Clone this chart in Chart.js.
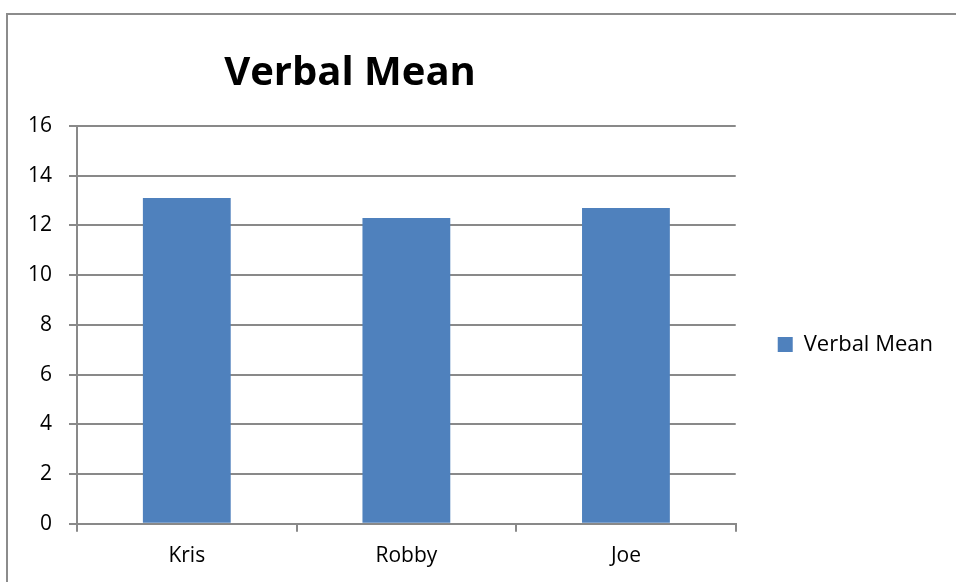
<!DOCTYPE html>
<html>
<head>
<meta charset="utf-8">
<script src="https://cdn.jsdelivr.net/npm/chart.js@4.4.0/dist/chart.umd.min.js"></script>
<style>
    html, body { margin: 0; padding: 0; background: #fff; }
</style>
</head>
<body>
<canvas id="verbal_graph" width="956" height="582"></canvas>
<script>
const chartTitle = 'Verbal Mean';
const seriesLabel = 'Verbal Mean';
const students = ['Kris', 'Robby', 'Joe'];
const verbalMean = [13.1, 12.3, 12.7];
const yMin = 0;
const yMax = 16;
const yStep = 2;

(function () {
    const verbalGraph = document.getElementById('verbal_graph');
    const gridColor = '#898989';

    // frame line and the title, drawn like the spreadsheet export
    const frameAndTitle = {
        id: 'frameAndTitle',
        afterLayout: function (chart) {
            // legend sits a little higher than the canvas middle
            chart.legend.top -= 18;
        },
        beforeDraw: function (chart) {
            const ctx = chart.ctx;
            ctx.save();
            ctx.strokeStyle = '#8c8c8c';
            ctx.lineWidth = 2;
            ctx.beginPath();
            ctx.moveTo(7, 582);
            ctx.lineTo(7, 14);
            ctx.lineTo(956, 14);
            ctx.stroke();
            ctx.restore();
        },
        afterDraw: function (chart) {
            const ctx = chart.ctx;
            ctx.save();
            ctx.font = 'bold 40px "Open Sans"';
            ctx.fillStyle = '#000';
            ctx.textAlign = 'center';
            ctx.textBaseline = 'alphabetic';
            ctx.fillText(chartTitle, 350, 85);
            ctx.restore();
        }
    };

    new Chart(verbalGraph, {
        type: 'bar',
        data: {
            labels: students,
            datasets: [
                {
                    label: seriesLabel,
                    data: verbalMean,
                    backgroundColor: '#4f81bd',
                    categoryPercentage: 1,
                    barPercentage: 0.4
                }
            ]
        },
        options: {
            responsive: false,
            animation: false,
            devicePixelRatio: 1,
            layout: {
                padding: { top: 126, left: 11, right: 13, bottom: 1 }
            },
            plugins: {
                title: { display: false },
                tooltip: { enabled: false },
                legend: {
                    position: 'right',
                    labels: {
                        color: '#000',
                        boxWidth: 15,
                        boxHeight: 15,
                        padding: 42,
                        font: { family: '"Open Sans"', size: 22 }
                    }
                }
            },
            scales: {
                y: {
                    min: yMin,
                    max: yMax,
                    ticks: {
                        stepSize: yStep,
                        color: '#000',
                        padding: 17,
                        font: { family: '"Open Sans"', size: 21 }
                    },
                    grid: {
                        color: gridColor,
                        lineWidth: 2,
                        tickLength: 8
                    },
                    border: { color: gridColor, width: 2 }
                },
                x: {
                    ticks: {
                        color: '#000',
                        padding: 12,
                        font: { family: '"Open Sans"', size: 21 }
                    },
                    grid: {
                        offset: true,
                        drawOnChartArea: false,
                        color: gridColor,
                        lineWidth: 2,
                        tickLength: 8
                    },
                    border: { color: gridColor, width: 2 }
                }
            }
        },
        plugins: [frameAndTitle]
    });
})();
</script>
</body>
</html>
